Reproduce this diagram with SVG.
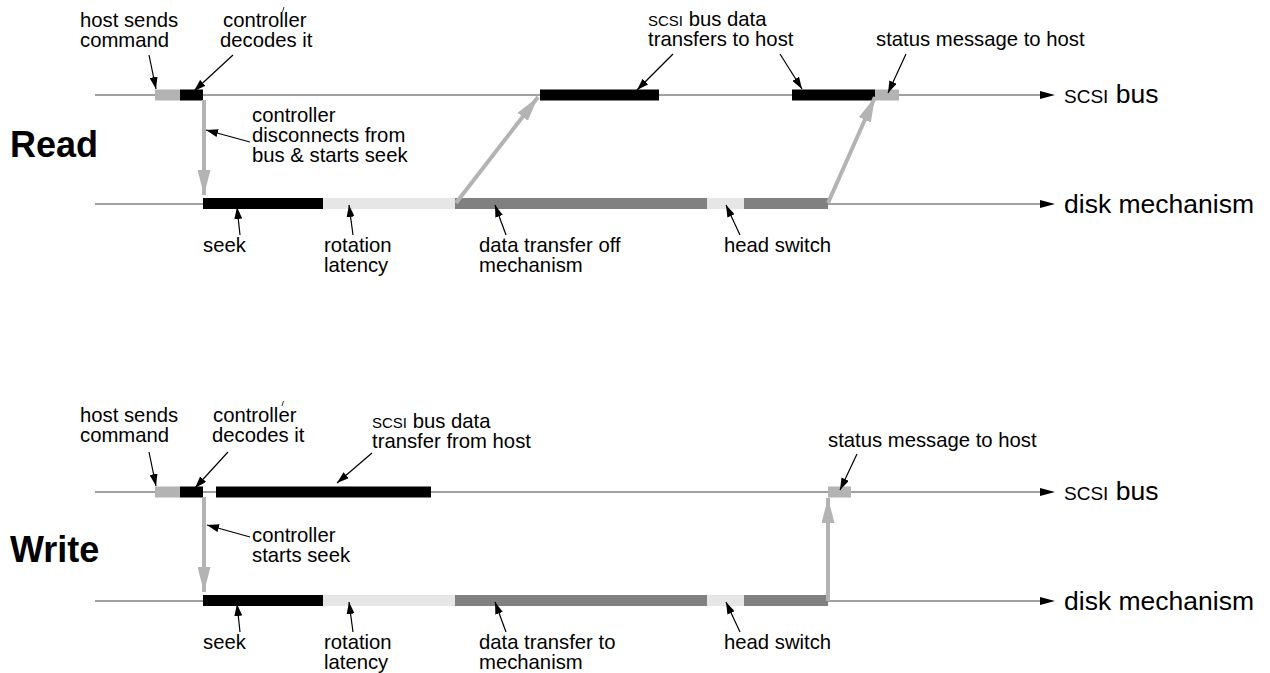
<svg xmlns="http://www.w3.org/2000/svg" width="1270" height="673" viewBox="0 0 1270 673">
<defs>
<marker id="blk" viewBox="0 0 12 8" refX="12" refY="4" markerWidth="12" markerHeight="8" markerUnits="userSpaceOnUse" orient="auto"><path d="M0,0 L12,4 L0,8 Z" fill="#000"/></marker>
<marker id="gry" viewBox="0 0 25 13" refX="25" refY="6.5" markerWidth="25" markerHeight="13" markerUnits="userSpaceOnUse" orient="auto"><path d="M0,0 L25,6.5 L0,13 Z" fill="#b3b3b3"/></marker>
</defs>
<style>
text{font-family:"Liberation Sans",Arial,sans-serif;font-size:20.3px;fill:#000}
.big{font-size:26.5px}
.sc{font-size:15px}
.scb{font-size:19px}
.title{font-size:36px;font-weight:bold}
.axis{stroke:#808080;stroke-width:1.6;fill:none}
.lbl{stroke:#000;stroke-width:1.2;fill:none;marker-end:url(#blk)}
.flow{stroke:#b3b3b3;stroke-width:4;fill:none;marker-end:url(#gry)}
.k{fill:#000}
.g{fill:#b3b3b3}
.d{fill:#808080}
.l{fill:#e6e6e6}
</style>
<rect width="1270" height="673" fill="#fff"/>

<!-- READ -->
<g id="read-title"><text class="title" x="10" y="157">Read</text></g>
<g id="read-bus-axis">
<line class="axis" x1="95" y1="95" x2="1042" y2="95"/>
<path d="M1040,91 L1055,95 L1040,99 Z" fill="#000"/>
<text class="big" x="1064" y="103"><tspan class="scb">SCSI</tspan> bus</text>
</g>
<g id="read-disk-axis">
<line class="axis" x1="95" y1="204" x2="1042" y2="204"/>
<path d="M1040,200 L1055,204 L1040,208 Z" fill="#000"/>
<text class="big" x="1064" y="213">disk mechanism</text>
</g>
<g id="read-bus-bars">
<rect class="g" x="155" y="89.5" width="25" height="11"/>
<rect class="k" x="180" y="89.5" width="23" height="11"/>
<rect class="k" x="540" y="89.5" width="119" height="11"/>
<rect class="k" x="792" y="89.5" width="83" height="11"/>
<rect class="g" x="875" y="89.5" width="24" height="11"/>
</g>
<g id="read-disk-bars">
<rect class="k" x="203" y="198" width="120" height="11"/>
<rect class="l" x="323" y="198" width="132" height="11"/>
<rect class="d" x="455" y="198" width="252" height="11"/>
<rect class="l" x="707" y="198" width="37" height="11"/>
<rect class="d" x="744" y="198" width="84" height="11"/>
</g>
<g id="read-labels">
<text x="80" y="27">host sends</text><text x="80" y="47">command</text>
<text x="223" y="27">controller</text><text x="220" y="47">decodes it</text>
<line x1="282.5" y1="12" x2="284" y2="7" stroke="#000" stroke-width="0.8"/>
<text x="648" y="26"><tspan class="sc">SCSI</tspan> bus data</text><text x="648" y="46">transfers to host</text>
<text x="876" y="46">status message to host</text>
<text x="252" y="122">controller</text><text x="252" y="142">disconnects from</text><text x="252" y="162">bus &amp; starts seek</text>
<text x="203" y="252">seek</text>
<text x="324" y="252">rotation</text><text x="324" y="272">latency</text>
<text x="479" y="252">data transfer off</text><text x="479" y="272">mechanism</text>
<text x="724" y="252">head switch</text>
</g>

<!-- WRITE -->
<g id="write-title"><text class="title" x="10" y="562">Write</text></g>
<g id="write-bus-axis">
<line class="axis" x1="95" y1="492" x2="1042" y2="492"/>
<path d="M1040,488 L1055,492 L1040,496 Z" fill="#000"/>
<text class="big" x="1064" y="500"><tspan class="scb">SCSI</tspan> bus</text>
</g>
<g id="write-disk-axis">
<line class="axis" x1="95" y1="601" x2="1042" y2="601"/>
<path d="M1040,597 L1055,601 L1040,605 Z" fill="#000"/>
<text class="big" x="1064" y="610">disk mechanism</text>
</g>
<g id="write-bus-bars">
<rect class="g" x="155" y="486.5" width="25" height="11"/>
<rect class="k" x="180" y="486.5" width="23" height="11"/>
<rect class="k" x="216" y="486.5" width="215" height="11"/>
<rect class="g" x="828" y="486.5" width="23" height="11"/>
</g>
<g id="write-disk-bars">
<rect class="k" x="203" y="595" width="120" height="11"/>
<rect class="l" x="323" y="595" width="132" height="11"/>
<rect class="d" x="455" y="595" width="252" height="11"/>
<rect class="l" x="707" y="595" width="37" height="11"/>
<rect class="d" x="744" y="595" width="84" height="11"/>
</g>
<g id="write-labels">
<text x="80" y="422">host sends</text><text x="80" y="442">command</text>
<text x="213" y="422">controller</text><text x="212" y="442">decodes it</text>
<line x1="282" y1="406" x2="283.5" y2="401" stroke="#000" stroke-width="0.8"/>
<text x="372" y="428"><tspan class="sc">SCSI</tspan> bus data</text><text x="372" y="448">transfer from host</text>
<text x="828" y="447">status message to host</text>
<text x="252" y="542">controller</text><text x="252" y="562">starts seek</text>
<text x="203" y="649">seek</text>
<text x="324" y="649">rotation</text><text x="324" y="669">latency</text>
<text x="479" y="649">data transfer to</text><text x="479" y="669">mechanism</text>
<text x="724" y="649">head switch</text>
</g>

<g id="connectors">
<!-- read -->
<line class="flow" x1="204" y1="100" x2="204" y2="195"/>
<line class="flow" x1="456" y1="203" x2="538" y2="97"/>
<line class="flow" x1="828" y1="203" x2="875" y2="97"/>
<line class="lbl" x1="149" y1="55" x2="156" y2="89"/>
<line class="lbl" x1="233" y1="55" x2="194" y2="91"/>
<line class="lbl" x1="250" y1="142" x2="206" y2="130"/>
<line class="lbl" x1="673" y1="54" x2="637" y2="90"/>
<line class="lbl" x1="780" y1="54" x2="802" y2="89"/>
<line class="lbl" x1="906" y1="54" x2="888" y2="93"/>
<line class="lbl" x1="240" y1="235" x2="237" y2="207"/>
<line class="lbl" x1="353" y1="235" x2="349" y2="205"/>
<line class="lbl" x1="506" y1="235" x2="495" y2="205"/>
<line class="lbl" x1="740" y1="235" x2="726" y2="205"/>
<!-- write -->
<line class="flow" x1="204" y1="497" x2="204" y2="592"/>
<line class="flow" x1="828" y1="601" x2="828" y2="498"/>
<line class="lbl" x1="149" y1="452" x2="156" y2="486"/>
<line class="lbl" x1="228" y1="452" x2="195" y2="488"/>
<line class="lbl" x1="372" y1="453" x2="337" y2="483"/>
<line class="lbl" x1="857" y1="454" x2="840" y2="490"/>
<line class="lbl" x1="250" y1="537" x2="207" y2="525"/>
<line class="lbl" x1="240" y1="632" x2="237" y2="604"/>
<line class="lbl" x1="353" y1="632" x2="349" y2="602"/>
<line class="lbl" x1="506" y1="632" x2="495" y2="602"/>
<line class="lbl" x1="740" y1="632" x2="726" y2="602"/>
</g>
</svg>
